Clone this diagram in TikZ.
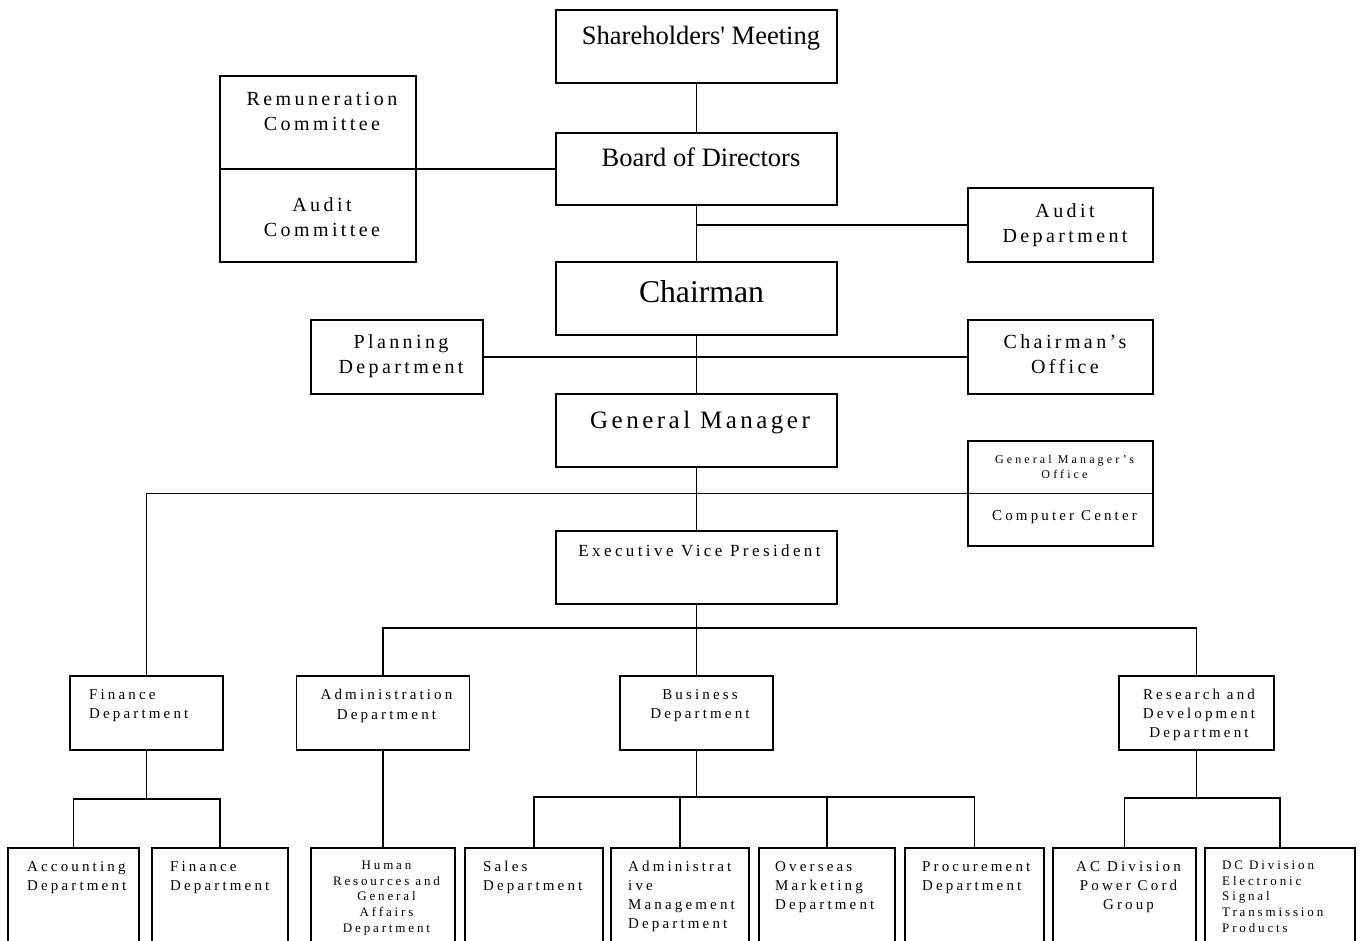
\documentclass[tikz,border=0pt]{standalone}
\usepackage{fontspec}
\setmainfont{Liberation Serif}
\newfontfamily\lsA[LetterSpace=17]{Liberation Serif}
\newfontfamily\lsB[LetterSpace=21]{Liberation Serif}
\newfontfamily\lsC[LetterSpace=22]{Liberation Serif}
\newfontfamily\lsGM[LetterSpace=14]{Liberation Serif}
\newfontfamily\lsEVP[LetterSpace=20]{Liberation Serif}
\newfontfamily\lsG[LetterSpace=26]{Liberation Serif}
\begin{document}
\begin{tikzpicture}[x=1pt,y=-1pt,
  box/.style={draw, line width=1.8pt, inner sep=0pt, outer sep=0pt},
  conn/.style={line width=1.8pt},
  big/.style={inner sep=0pt, anchor=north, font=\fontsize{26.5}{30}\selectfont},
  tA/.style={inner sep=0pt, anchor=north, align=center, font=\fontsize{20}{25.5}\lsA},
  tB/.style={inner sep=0pt, anchor=north, align=center, font=\fontsize{15}{19.5}\lsB},
  tBl/.style={inner sep=0pt, anchor=north west, align=left, font=\fontsize{15}{19}\lsB},
  tBc/.style={inner sep=0pt, anchor=north, align=center, font=\fontsize{15}{19}\lsB},
  tC/.style={inner sep=0pt, anchor=north, align=center, font=\fontsize{13}{15.8}\lsC},
  tCl/.style={inner sep=0pt, anchor=north west, align=left, font=\fontsize{13}{15.8}\lsC}]
\useasboundingbox (0,0) rectangle (1363,940);
\clip (0,0) rectangle (1363,940);
% boxes
\node[box, minimum width=281, minimum height=73] (sh) at (696.5,46.5) {};
\node[box, minimum width=281, minimum height=72] (bod) at (696.5,169) {};
\node[box, minimum width=281, minimum height=73] (ch) at (696.5,298.5) {};
\node[box, minimum width=281, minimum height=73] (gm) at (696.5,430.5) {};
\node[box, minimum width=281, minimum height=73] (evp) at (696.5,567.5) {};
\node[box, minimum width=196, minimum height=186] (com) at (318,169) {};
\node[box, minimum width=185, minimum height=74] (aud) at (1060.5,225) {};
\node[box, minimum width=172, minimum height=74] (plan) at (397,357) {};
\node[box, minimum width=185, minimum height=74] (cho) at (1060.5,357) {};
\node[box, minimum width=185, minimum height=105] (gmo) at (1060.5,493.5) {};
\node[box, minimum width=153, minimum height=74] (fin) at (146.5,713) {};
\node[box, minimum width=173, minimum height=74] (adm) at (383,713) {};
\node[box, minimum width=153, minimum height=74] (bus) at (696.5,713) {};
\node[box, minimum width=155, minimum height=74] (rnd) at (1196.5,713) {};
\node[box, minimum width=131, minimum height=112] (acc) at (73.5,904) {};
\node[box, minimum width=136, minimum height=112] (fin2) at (220,904) {};
\node[box, minimum width=144, minimum height=112] (hr) at (383,904) {};
\node[box, minimum width=138, minimum height=112] (sales) at (534,904) {};
\node[box, minimum width=138, minimum height=112] (amd) at (680,904) {};
\node[box, minimum width=136, minimum height=112] (ovs) at (827,904) {};
\node[box, minimum width=139, minimum height=112] (proc) at (974.5,904) {};
\node[box, minimum width=143, minimum height=112] (ac) at (1124.5,904) {};
\node[box, minimum width=150, minimum height=112] (dc) at (1280,904) {};
% dividers
\draw[conn] (com.west) -- (com.east);
\draw[conn] (gmo.west) -- (gmo.east);
% connectors
\draw[conn] (sh.south) -- (bod.north);
\draw[conn] (bod.south) -- (ch.north);
\draw[conn] (aud.west) -- (aud.west -| bod.south);
\draw[conn] (com.east) -- (bod.west);
\draw[conn] (ch.south) -- (gm.north);
\draw[conn] (plan.east) -- (cho.west);
\draw[conn] (gm.south) -- (evp.north);
\draw[conn] (gmo.west) -| (fin.north);
\coordinate (ej) at (696.5,628);
\draw[conn] (evp.south) -- (ej);
\draw[conn] (adm.north) |- (ej) -| (rnd.north);
\draw[conn] (ej) -- (bus.north);
\coordinate (fj) at (146.5,799);
\draw[conn] (fin.south) -- (fj);
\draw[conn] (acc.north) |- (fj) -| (fin2.north);
\draw[conn] (adm.south) -- (hr.north);
\coordinate (bj) at (696.5,797);
\draw[conn] (bus.south) -- (bj);
\draw[conn] (sales.north) |- (bj) -| (proc.north);
\draw[conn] (amd.north) -- (amd.north |- bj);
\draw[conn] (ovs.north) -- (ovs.north |- bj);
\coordinate (rj) at (1196.5,798);
\draw[conn] (rnd.south) -- (rj);
\draw[conn] (ac.north) |- (rj) -| (dc.north);
% texts
\node[big] (tsh) at (701,25.5) {Shareholders\textquotesingle{} Meeting};
\node[big] (tbod) at (701,147.5) {Board of Directors};
\node[inner sep=0pt, anchor=north, font=\fontsize{31.7}{36}\selectfont] (tch) at (701.5,280) {Chairman};
\node[inner sep=0pt, anchor=north, font=\fontsize{25}{30}\lsGM] (tgm) at (700,411) {General Manager};
\node[inner sep=0pt, anchor=north, font=\fontsize{17}{20}\lsEVP] (tevp) at (699.5,544) {Executive Vice President};
\node[tA] (trem) at (322,92) {Remuneration\\Committee};
\node[tA] (tauc) at (322,197) {Audit\\Committee};
\node[tA] (taud) at (1065,203) {Audit\\Department};
\node[tA] (tplan) at (401,334) {Planning\\Department};
\node[tA] (tcho) at (1065,334) {Chairman’s\\Office};
\node[inner sep=0pt, anchor=north, align=center, font=\fontsize{12}{14.5}\lsG] (tgmo) at (1064.5,455) {General Manager’s\\Office};
\node[inner sep=0pt, anchor=north, font=\fontsize{15}{19}\lsB] (tcc) at (1064.5,510) {Computer Center};
\node[tBl] (tfin) at (89,689) {Finance\\Department};
\node[tB] (tadm) at (386.5,689) {Administration\\Department};
\node[tB] (tbus) at (700,689) {Business\\Department};
\node[tBc] (trnd) at (1199,689) {Research and\\Development\\Department};
\node[tBl] (tacc) at (27,861) {Accounting\\Department};
\node[tBl] (tfin2) at (170,861) {Finance\\Department};
\node[tC] (thr) at (386.5,860.5) {Human\\Resources and\\General\\Affairs\\Department};
\node[tBl] (tsales) at (483,861) {Sales\\Department};
\node[tBl] (tamd) at (628,861) {Administrat\\ive\\Management\\Department};
\node[tBl] (tovs) at (775,861) {Overseas\\Marketing\\Department};
\node[tBl] (tproc) at (922,861) {Procurement\\Department};
\node[tBc] (tac) at (1128.5,861) {AC Division\\Power Cord\\Group};
\node[tCl] (tdc) at (1222,860.5) {DC Division\\Electronic\\Signal\\Transmission\\Products};
\end{tikzpicture}
\end{document}
